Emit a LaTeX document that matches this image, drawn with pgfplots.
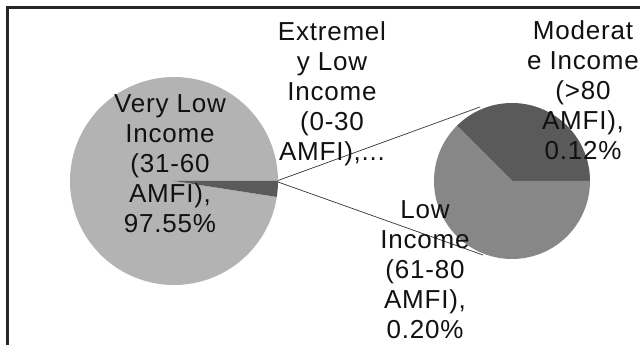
\documentclass[border=0pt]{standalone}
\usepackage{pgfplots}
\pgfplotsset{compat=1.18}
\usepackage{fontspec}
\setmainfont{Liberation Sans}[LetterSpace=3]

\definecolor{sliceLight}{HTML}{B3B3B3}
\definecolor{sliceMid}{HTML}{878787}
\definecolor{sliceDark}{HTML}{5A5A5A}
\definecolor{labelText}{HTML}{111111}

\tikzset{lbl/.style={anchor=north, align=center, inner sep=0pt, text=labelText,
    font=\fontsize{26}{30}\selectfont}}

% Income shares (percent of households)
\def\shareVeryLow{97.55}
\def\shareLow{0.20}
\def\shareModerate{0.12}

\begin{document}
\begin{tikzpicture}
\pgfmathsetmacro\mainSplit{3.6*\shareVeryLow}
\pgfmathsetmacro\subSplit{360*\shareModerate/(\shareModerate+\shareLow)}
\begin{axis}[
  scale only axis, width=640pt, height=345pt,
  xmin=0, xmax=640, ymin=0, ymax=345,
  hide axis, clip=true,
]
\fill[white] (rel axis cs:0,0) rectangle (rel axis cs:1,1);
% chart frame (runs past the right and bottom edges)
\draw[line width=2.5pt, draw=black!85] (axis cs:7.5,-40) -- (axis cs:7.5,337.5) -- (axis cs:700,337.5);

% main pie
\addplot[draw=none, fill=sliceLight, domain=0:\mainSplit, samples=150, variable=\t]
  ({174+104*cos(t)}, {164+104*sin(t)}) -- (axis cs:174,164) -- cycle;
\addplot[draw=none, fill=sliceDark, domain=\mainSplit:360, samples=10, variable=\t]
  ({174+104*cos(t)}, {164+104*sin(t)}) -- (axis cs:174,164) -- cycle;

% secondary pie
\addplot[draw=none, fill=sliceDark, domain=0:\subSplit, samples=80, variable=\t]
  ({512+78*cos(t)}, {164+78*sin(t)}) -- (axis cs:512,164) -- cycle;
\addplot[draw=none, fill=sliceMid, domain=\subSplit:360, samples=120, variable=\t]
  ({512+78*cos(t)}, {164+78*sin(t)}) -- (axis cs:512,164) -- cycle;

% connector lines
\addplot[black!80, line width=0.7pt] coordinates {(278,164.5) (480,238)};
\addplot[black!80, line width=0.7pt] coordinates {(278,163) (483,90)};

% data labels
\node[lbl] at (axis cs:170,251) {Very Low\\Income\\(31-60\\AMFI),\\97.55\%};
\node[lbl] at (axis cs:332,324) {Extremel\\y Low\\Income\\(0-30\\AMFI),...};
\node[lbl] at (axis cs:583,325) {Moderat\\e Income\\(>80\\AMFI),\\0.12\%};
\node[lbl] at (axis cs:425,145) {Low\\Income\\(61-80\\AMFI),\\0.20\%};
\end{axis}
\end{tikzpicture}
\end{document}
